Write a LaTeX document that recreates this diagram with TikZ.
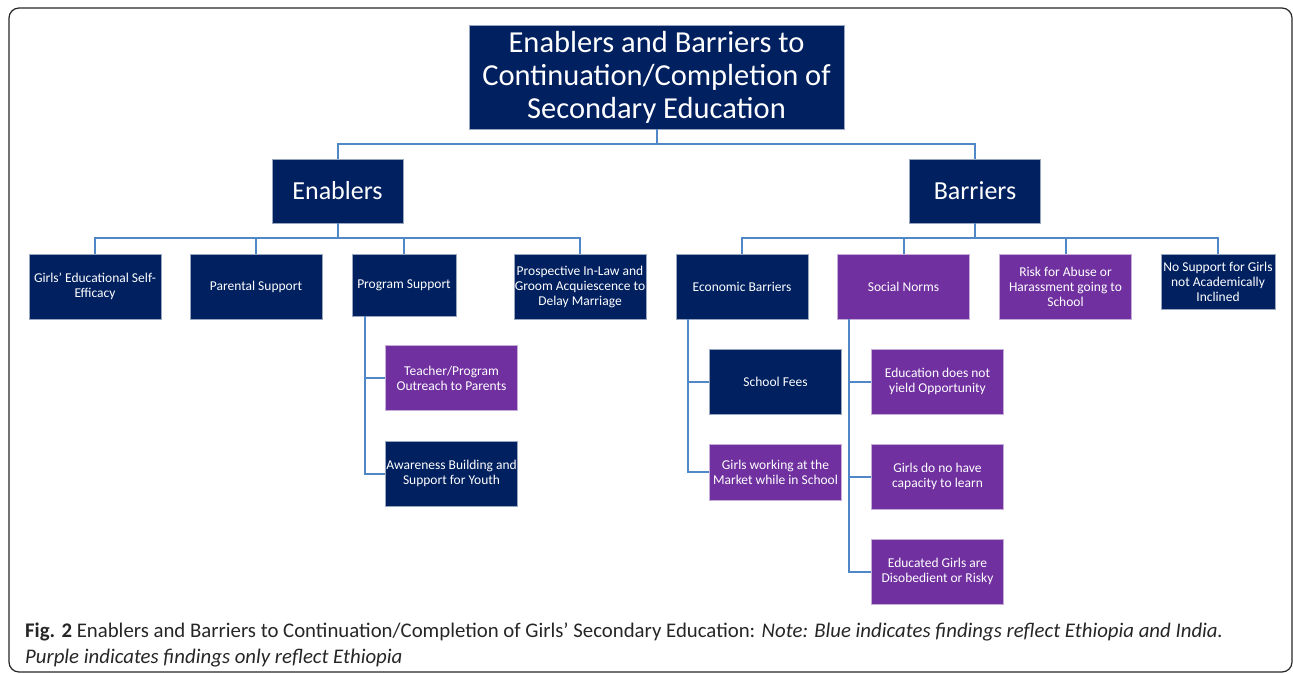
\documentclass[tikz,border=0pt]{standalone}
\usepackage{fontspec}
\setmainfont{Carlito}
\definecolor{navy}{RGB}{0,32,96}
\definecolor{plum}{RGB}{112,48,160}
\definecolor{linkblue}{RGB}{80,135,198}
\begin{document}
\begin{tikzpicture}[x=1pt,y=-1pt,
		box/.style={fill=navy, draw=navy!40!white, line width=0.5pt, text=white, align=center,
			inner sep=1pt, minimum width=132, minimum height=65, font=\fontsize{13.5}{15}\selectfont},
		eth/.style={box, fill=plum, draw=plum!40!white},
		head/.style={box, font=\fontsize{26}{30}\selectfont, minimum width=131, minimum height=64},
		link/.style={draw=linkblue, line width=2pt}]
\useasboundingbox (0,0) rectangle (1293,674);
\draw[black!85, line width=1.2pt, rounded corners=10] (9,8) rectangle (1292,672);
% top levels
\node[box, font=\fontsize{30.5}{33}\selectfont, minimum width=375, minimum height=104] (title) at (656.5,77)
	{Enablers and Barriers to\\Continuation/Completion of\\Secondary Education};
\node[head] (enab) at (337.5,191) {Enablers};
\node[head] (barr) at (975,191) {Barriers};
% enablers
\node[box] (self) at (95,286.5) {Girls’ Educational Self-\\Efficacy};
\node[box] (parent) at (256,286.5) {Parental Support};
\node[box, minimum width=104, minimum height=62] (prog) at (404,285) {Program Support};
\node[box] (inlaw) at (580,286.5) {Prospective In-Law and\\Groom Acquiescence to\\Delay Marriage};
\node[eth] (teach) at (451.5,378) {Teacher/Program\\Outreach to Parents};
\node[box] (aware) at (451.5,473.5) {Awareness Building and\\Support for Youth};
% barriers
\node[box] (econ) at (742,286.5) {Economic Barriers};
\node[eth] (social) at (903.5,286.5) {Social Norms};
\node[eth] (abuse) at (1065.5,286.5) {Risk for Abuse or\\Harassment going to\\School};
\node[box, minimum width=114, minimum height=55] (nosup) at (1218,281.5) {No Support for Girls\\not Academically\\Inclined};
\node[box] (fees) at (775.5,381.5) {School Fees};
\node[eth, minimum height=56] (market) at (775.5,472) {Girls working at the\\Market while in School};
\node[eth] (noopp) at (937.5,381.5) {Education does not\\yield Opportunity};
\node[eth] (learn) at (937.5,476.5) {Girls do no have\\capacity to learn};
\node[eth] (risky) at (937.5,571.5) {Educated Girls are\\Disobedient or Risky};
% connectors
\draw[link] (title.south) -- ++(0,15) -| (enab.north);
\draw[link] (title.south) -- ++(0,15) -| (barr.north);
\foreach \c in {self,parent,prog,inlaw}
	\draw[link] (enab.south) -- ++(0,15) -| (\c.north);
\foreach \c in {econ,social,abuse,nosup}
	\draw[link] (barr.south) -- ++(0,15) -| (\c.north);
\foreach \c in {teach,aware}
	\draw[link] ([xshift=13]prog.south west) |- (\c.west);
\foreach \c in {fees,market}
	\draw[link] ([xshift=12]econ.south west) |- (\c.west);
\foreach \c in {noopp,learn,risky}
	\draw[link] ([xshift=12]social.south west) |- (\c.west);
% caption
\node[anchor=base west, inner sep=0, text=black!85, font=\fontsize{20.8}{26}\selectfont] (cap1) at (25,637)
	{\textbf{Fig. 2} Enablers and Barriers to Continuation/Completion of Girls’ Secondary Education: \textit{Note: Blue indicates findings reflect Ethiopia and India.}};
\node[anchor=base west, inner sep=0, text=black!85, font=\fontsize{20.8}{26}\selectfont] (cap2) at (25,663)
	{\textit{Purple indicates findings only reflect Ethiopia}};
\end{tikzpicture}
\end{document}
